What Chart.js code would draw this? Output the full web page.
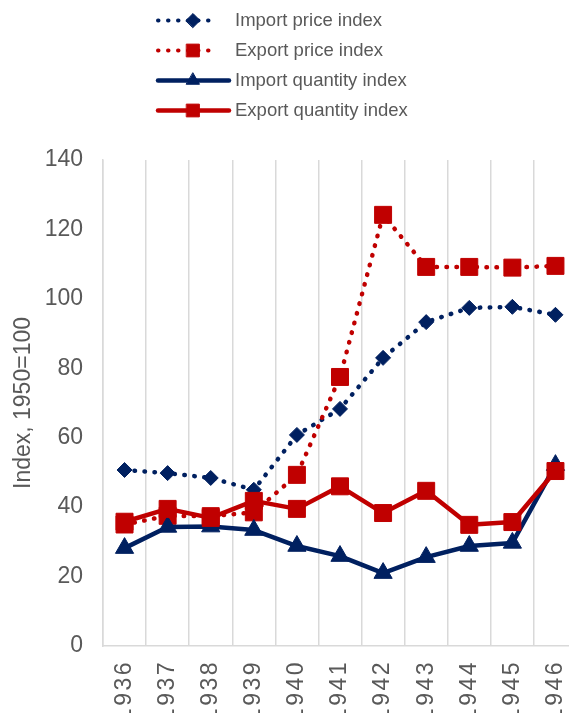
<!DOCTYPE html>
<html>
<head>
<meta charset="utf-8">
<title>Import and export price and quantity indices, 1936–1946</title>
<script src="https://cdn.jsdelivr.net/npm/chart.js@4/dist/chart.umd.min.js"></script>
<style>
  html, body { margin: 0; padding: 0; background: #ffffff; overflow: hidden; }
  #wrap { width: 590px; height: 740px; }
</style>
</head>
<body>
<div id="wrap"><canvas id="chart" width="590" height="740"></canvas></div>
<script>
// Years on the horizontal axis
const years = ['1936', '1937', '1938', '1939', '1940', '1941', '1942', '1943', '1944', '1945', '1946'];

// Index values, 1950 = 100
const importPrice    = [50.7, 49.8, 48.4, 45.0, 60.8, 68.3, 83.0, 93.3, 97.4, 97.7, 95.4];
const exportPrice    = [35.0, 37.5, 37.4, 38.5, 49.3, 77.5, 124.2, 109.2, 109.2, 109.0, 109.5];
const importQuantity = [28.2, 34.3, 34.4, 33.4, 28.8, 25.9, 21.0, 25.6, 28.8, 29.7, 52.1];
const exportQuantity = [35.8, 39.5, 36.9, 41.8, 39.5, 46.0, 38.3, 44.7, 34.9, 35.7, 50.4];

// Series names
const seriesNames = ['Import price index', 'Export price index', 'Import quantity index', 'Export quantity index'];

// Y-axis ticks
const yTickMin = 0;
const yTickMax = 140;
const yTickStep = 20;
const yAxisTitle = 'Index, 1950=100';

const NAVY = '#002060';
const RED = '#C00000';
const TEXT = '#595959';
const GRID = '#d9d9d9';
const FONT = '"Liberation Sans", Arial, Helvetica, sans-serif';
const DOTS = [0.5, 9.5];

// Category axis whose tick labels are drawn with a little extra tracking
class SpacedCategoryScale extends Chart.CategoryScale {
  drawLabels(area) {
    const ctx = this.ctx;
    ctx.save();
    ctx.letterSpacing = '2.5px';
    super.drawLabels(area);
    ctx.restore();
  }
}
SpacedCategoryScale.id = 'spacedCategory';
SpacedCategoryScale.defaults = Chart.CategoryScale.defaults;
Chart.register(SpacedCategoryScale);

// Key in the top-left corner: line sample, marker, then series name
const seriesKey = {
  id: 'seriesKey',
  afterDraw(chart) {
    const ctx = chart.ctx;
    chart.data.datasets.forEach((ds, i) => {
      const y = 20.5 + i * 30;
      ctx.save();
      ctx.strokeStyle = ds.borderColor;
      ctx.lineCap = 'round';
      ctx.beginPath();
      if (ds.borderDash && ds.borderDash.length) {
        ctx.lineWidth = 4;
        ctx.setLineDash(DOTS);
        ctx.moveTo(158, y);
        ctx.lineTo(212, y);
      } else {
        ctx.lineWidth = 4.5;
        ctx.moveTo(158, y);
        ctx.lineTo(229, y);
      }
      ctx.stroke();
      ctx.setLineDash([]);
      ctx.fillStyle = ds.pointBackgroundColor;
      ctx.strokeStyle = ds.pointBorderColor;
      ctx.lineWidth = 1;
      Chart.helpers.drawPoint(ctx, {
        pointStyle: ds.pointStyle,
        radius: ds.keyRadius,
        rotation: 0,
        borderWidth: 1
      }, 193, y);
      ctx.fillStyle = TEXT;
      ctx.font = '18.5px ' + FONT;
      ctx.textAlign = 'left';
      ctx.textBaseline = 'middle';
      ctx.fillText(ds.label, 235, y + 0.5);
      ctx.restore();
    });
  }
};

const chart = new Chart(document.getElementById('chart'), {
  type: 'line',
  data: {
    labels: years,
    datasets: [
      {
        label: seriesNames[0],
        data: importPrice,
        borderColor: NAVY,
        borderWidth: 4.5,
        borderDash: DOTS,
        borderCapStyle: 'round',
        pointStyle: 'rectRot',
        pointRadius: 7.5,
        keyRadius: 7,
        pointBackgroundColor: NAVY,
        pointBorderColor: NAVY,
        pointBorderWidth: 1,
        order: 4
      },
      {
        label: seriesNames[1],
        data: exportPrice,
        borderColor: RED,
        borderWidth: 4.5,
        borderDash: DOTS,
        borderCapStyle: 'round',
        pointStyle: 'rect',
        pointRadius: 12,
        keyRadius: 9,
        pointBackgroundColor: RED,
        pointBorderColor: RED,
        pointBorderWidth: 1,
        order: 3
      },
      {
        label: seriesNames[2],
        data: importQuantity,
        borderColor: NAVY,
        borderWidth: 4.5,
        borderJoinStyle: 'round',
        pointStyle: 'triangle',
        pointRadius: 10.5,
        keyRadius: 7.5,
        pointBackgroundColor: NAVY,
        pointBorderColor: NAVY,
        pointBorderWidth: 1,
        order: 2
      },
      {
        label: seriesNames[3],
        data: exportQuantity,
        borderColor: RED,
        borderWidth: 4.5,
        borderJoinStyle: 'round',
        pointStyle: 'rect',
        pointRadius: 12,
        keyRadius: 9,
        pointBackgroundColor: RED,
        pointBorderColor: RED,
        pointBorderWidth: 1,
        order: 1
      }
    ]
  },
  options: {
    responsive: false,
    animation: false,
    devicePixelRatio: 1,
    layout: { padding: { top: 160, left: 0, right: 9, bottom: 0 } },
    plugins: {
      legend: { display: false },
      tooltip: { enabled: false }
    },
    elements: { line: { tension: 0 } },
    scales: {
      x: {
        type: 'spacedCategory',
        offset: true,
        grid: { display: true, offset: true, color: GRID, lineWidth: 1.5, drawTicks: false },
        border: { display: true, color: GRID, width: 1.5 },
        ticks: {
          color: TEXT,
          font: { family: FONT, size: 23 },
          minRotation: 90,
          maxRotation: 90,
          autoSkip: false,
          padding: 14
        },
        afterFit(scale) {
          scale.height = 94;
          scale.paddingLeft = 0;
          scale.paddingRight = 0;
        }
      },
      y: {
        min: yTickMin,
        max: yTickMax,
        grid: { display: false, drawTicks: false },
        border: { display: true, color: GRID, width: 1.5 },
        ticks: {
          stepSize: yTickStep,
          color: TEXT,
          font: { family: FONT, size: 23 },
          padding: 20
        },
        title: {
          display: true,
          text: yAxisTitle,
          color: TEXT,
          font: { family: FONT, size: 23 },
          padding: { top: 10, bottom: 0 }
        },
        afterFit(scale) {
          scale.width = 103;
          scale.paddingTop = 0;
          scale.paddingBottom = 0;
        }
      }
    }
  },
  plugins: [seriesKey]
});
</script>
</body>
</html>
